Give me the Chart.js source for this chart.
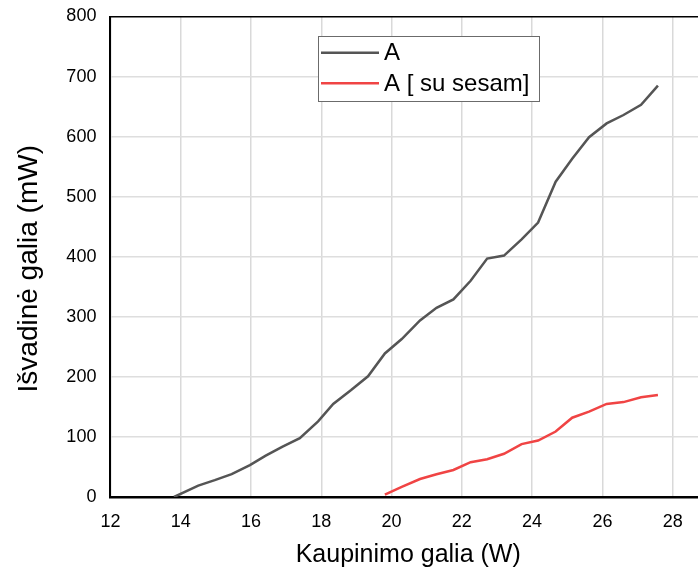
<!DOCTYPE html>
<html>
<head>
<meta charset="utf-8">
<script src="https://cdn.jsdelivr.net/npm/chart.js@4.4.0/dist/chart.umd.min.js"></script>
<style>
  html, body { margin: 0; padding: 0; background: #ffffff; }
  #wrap { width: 698px; height: 575px; position: relative; }
</style>
</head>
<body>
<div id="wrap"><canvas id="chart" width="698" height="575"></canvas></div>
<script>
// Pumping power (W) and output power (mW), series A
const pumpA = [13.81, 14.5, 14.97, 15.45, 15.97, 16.42, 16.9, 17.39, 17.91, 18.34, 18.85, 19.33, 19.81, 20.29, 20.81, 21.28, 21.76, 22.25, 22.72, 23.2, 23.7, 24.17, 24.67, 25.14, 25.62, 26.12, 26.6, 27.1, 27.58];
const outA  = [0, 19, 28, 38, 53, 69, 84, 98, 126, 155, 178, 201, 239, 263, 294, 315, 329, 360, 397, 402, 429, 457, 525, 563, 599, 622, 636, 653, 685];

// Series A with the sesame filter
const pumpSesam = [19.81, 20.29, 20.81, 21.28, 21.76, 22.25, 22.72, 23.2, 23.7, 24.17, 24.67, 25.14, 25.62, 26.12, 26.6, 27.1, 27.58];
const outSesam  = [4, 17, 30, 38, 45, 58, 63, 72, 88, 94, 109, 132, 142, 155, 158, 166, 170];

const seriesLabels = ['A', 'A [ su sesam]'];
const xTickValues = [12, 14, 16, 18, 20, 22, 24, 26, 28];
const yTickValues = [0, 100, 200, 300, 400, 500, 600, 700, 800];
const xTitle = 'Kaupinimo galia (W)';
const yTitle = 'Išvadinė galia (mW)';

const FONT = '"Liberation Sans", Arial, sans-serif';

function toPoints(xs, ys) {
  return xs.map((x, i) => ({ x: x, y: ys[i] }));
}

// Legend box drawn inside the plot area
const boxedLegend = {
  id: 'boxedLegend',
  afterDatasetsDraw(chart) {
    const ctx = chart.ctx;
    const x0 = 318.5, y0 = 36.5, w = 221, h = 65;
    ctx.save();
    ctx.fillStyle = '#ffffff';
    ctx.fillRect(x0, y0, w, h);
    ctx.strokeStyle = '#6b6b6b';
    ctx.lineWidth = 1;
    ctx.strokeRect(x0, y0, w, h);
    ctx.font = '24px ' + FONT;
    ctx.textBaseline = 'middle';
    ctx.textAlign = 'left';
    chart.data.datasets.forEach((ds, i) => {
      const yy = 52.7 + i * 30.6;
      ctx.strokeStyle = ds.borderColor;
      ctx.lineWidth = ds.borderWidth;
      ctx.beginPath();
      ctx.moveTo(321, yy);
      ctx.lineTo(379, yy);
      ctx.stroke();
      ctx.fillStyle = '#000000';
      ctx.fillText(ds.label, 384, yy + 1);
    });
    ctx.restore();
  }
};

// Axis titles placed in the margins reserved by the scales
const axisTitles = {
  id: 'axisTitles',
  afterDraw(chart) {
    const ctx = chart.ctx;
    const area = chart.chartArea;
    ctx.save();
    ctx.fillStyle = '#000000';
    ctx.textAlign = 'center';
    ctx.textBaseline = 'middle';
    ctx.font = '25px ' + FONT;
    ctx.fillText(xTitle, (area.left + area.right) / 2 + 4, 555);
    ctx.font = '28px ' + FONT;
    ctx.translate(29.5, (area.top + area.bottom) / 2 + 12);
    ctx.rotate(-Math.PI / 2);
    ctx.fillText(yTitle, 0, 0);
    ctx.restore();
  }
};

new Chart(document.getElementById('chart'), {
  type: 'scatter',
  data: {
    datasets: [
      {
        label: seriesLabels[0],
        data: toPoints(pumpA, outA),
        showLine: true,
        borderColor: '#555555',
        borderWidth: 2.5,
        pointRadius: 0,
        tension: 0
      },
      {
        label: seriesLabels[1],
        data: toPoints(pumpSesam, outSesam),
        showLine: true,
        borderColor: '#f04444',
        borderWidth: 2.5,
        pointRadius: 0,
        tension: 0
      }
    ]
  },
  options: {
    responsive: false,
    animation: false,
    layout: { padding: { top: 16.5, right: 0, left: 0, bottom: 0 } },
    plugins: {
      legend: { display: false },
      tooltip: { enabled: false }
    },
    scales: {
      x: {
        type: 'linear',
        min: 12,
        max: 28.72,
        afterBuildTicks(scale) {
          scale.ticks = xTickValues.map(v => ({ value: v }));
        },
        afterFit(scale) {
          scale.height = 78;
          scale.paddingLeft = 0;
          scale.paddingRight = 0;
        },
        grid: {
          color: '#d9d9d9',
          lineWidth: 1.5,
          drawTicks: false
        },
        border: { color: '#000000', width: 2.5 },
        ticks: {
          padding: 14,
          color: '#000000',
          font: { family: FONT, size: 18 },
          maxRotation: 0
        }
      },
      y: {
        type: 'linear',
        min: 0,
        max: 800,
        afterBuildTicks(scale) {
          scale.ticks = yTickValues.map(v => ({ value: v }));
        },
        afterFit(scale) {
          scale.width = 110.4;
          scale.paddingTop = 0;
          scale.paddingBottom = 0;
        },
        grid: {
          color: ctx => (ctx.tick && ctx.tick.value === 800 ? '#000000' : '#dedede'),
          lineWidth: 1.5,
          drawTicks: false
        },
        border: { color: '#000000', width: 2 },
        ticks: {
          padding: 14,
          color: '#000000',
          font: { family: FONT, size: 18 }
        }
      }
    }
  },
  plugins: [boxedLegend, axisTitles]
});
</script>
</body>
</html>
